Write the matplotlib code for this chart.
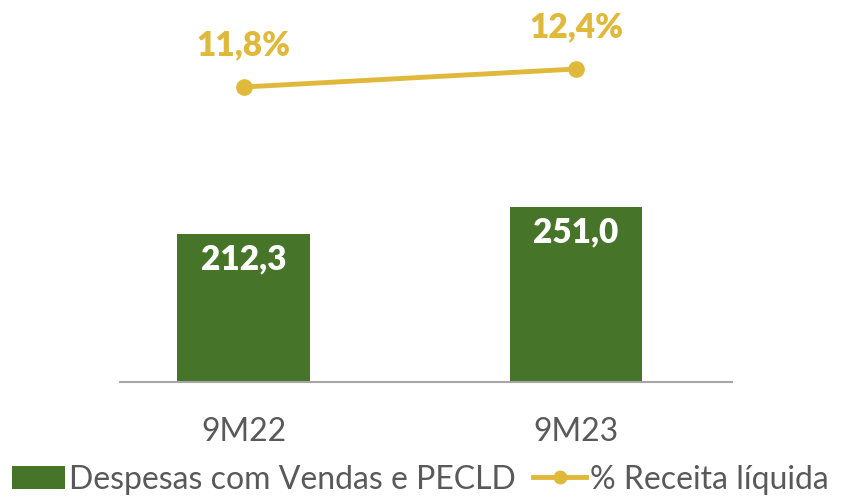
import matplotlib
matplotlib.use('Agg')
import matplotlib.pyplot as plt
from matplotlib.lines import Line2D
from matplotlib.patches import Patch

# data
periods = ['9M22', '9M23']
despesas = [212.3, 251.0]
despesas_labels = ['212,3', '251,0']
pct_receita = [11.8, 12.4]
pct_labels = ['11,8%', '12,4%']

GREEN = '#467428'
YELLOW = '#E0B93A'
GRAY_TXT = '#595959'

plt.rcParams['font.family'] = ['Lato', 'DejaVu Sans']

fig = plt.figure(figsize=(8.41, 4.98), dpi=100)
# axes box in pixels: left 120, right 732, bottom at y=382, top at y=0
ax = fig.add_axes([120 / 841, (498 - 382) / 498, 612 / 841, 382 / 498])

x = list(range(len(periods)))
ax.bar(x, despesas, width=0.4, color=GREEN, zorder=2)
ax.set_xlim(-0.373, 1.47)
ax.set_ylim(0, 548)

for xi, v, lab in zip(x, despesas, despesas_labels):
    ax.text(xi, v - 37, lab, ha='center', va='center', color='white',
            fontsize=24, fontweight='heavy')

for s in ['top', 'right', 'left']:
    ax.spines[s].set_visible(False)
ax.spines['bottom'].set_color('#A6A6A6')
ax.spines['bottom'].set_linewidth(1.5)
ax.set_yticks([])
ax.set_xticks(x)
ax.set_xticklabels(periods, fontsize=23, color=GRAY_TXT)
ax.tick_params(axis='x', length=0, pad=25)

ax2 = ax.twinx()
ax2.plot(x, pct_receita, color=YELLOW, linewidth=3.5, marker='o', markersize=11)
ax2.set_ylim(11.8 - 295 / 30, 11.8 + 87 / 30)
ax2.set_yticks([])
for s in ['top', 'right', 'left', 'bottom']:
    ax2.spines[s].set_visible(False)

for xi, v, lab in zip(x, pct_receita, pct_labels):
    ax2.text(xi, v + 1.4, lab, ha='center', va='center', color=YELLOW,
             fontsize=24, fontweight='heavy')

handles = [
    Patch(facecolor=GREEN, label='Despesas com Vendas e PECLD'),
    Line2D([0], [0], color=YELLOW, linewidth=3.5, marker='o', markersize=9,
           label='% Receita líquida'),
]
leg = fig.legend(handles=handles, loc='center', bbox_to_anchor=(0.5, 0.037),
                 ncol=2, frameon=False, fontsize=23, handlelength=1.65,
                 handleheight=0.7, handletextpad=0.12, columnspacing=0.55,
                 labelcolor=GRAY_TXT, borderpad=0.1)

fig.savefig('out.png', dpi=100)
